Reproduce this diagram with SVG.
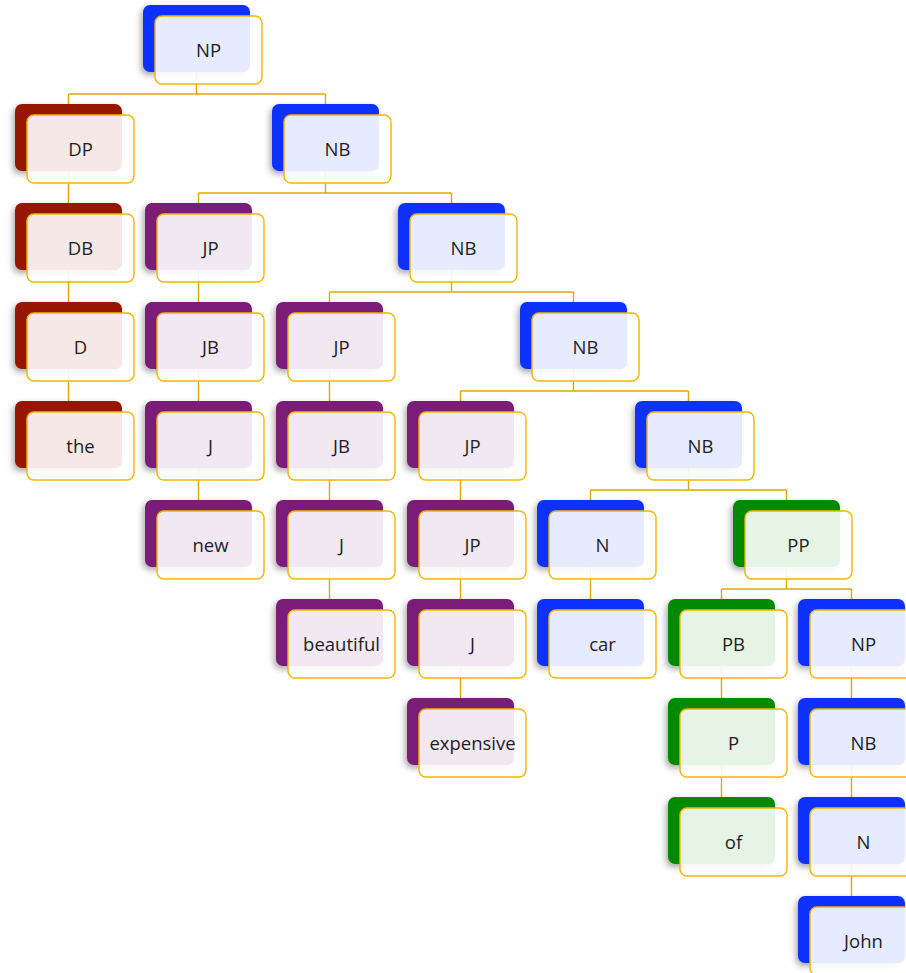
<svg xmlns="http://www.w3.org/2000/svg" width="906" height="973" viewBox="0 0 906 973">
<defs>
<filter id="sh" x="-20%" y="-20%" width="140%" height="150%">
<feDropShadow dx="-2" dy="3" stdDeviation="3" flood-color="#000" flood-opacity="0.35"/>
</filter>
<style>
.b{filter:url(#sh)}
.blue{fill:#0a33ff}.red{fill:#971400}.pur{fill:#7a1a78}.grn{fill:#038a03}
.f{fill:#fff;fill-opacity:0.9;stroke:#f2b600;stroke-width:1.4}
text{font-family:"Open Sans","Noto Sans","Liberation Sans",sans-serif;font-size:18.5px;fill:#1e1e1e;text-anchor:middle}
.c{fill:none;stroke:#e2a800;stroke-width:1.4}
</style>
</defs>
<rect width="906" height="973" fill="#fff"/>
<g id="connectors" class="c">
<path d="M196.5 72V94M68.5 94H325.5M68.5 94V104M325.5 94V104"/>
<path d="M68.5 171V203M68.5 270V302M68.5 369V401"/>
<path d="M325.5 171V193M198.5 193H451.5M198.5 193V203M451.5 193V203"/>
<path d="M198.5 270V302M198.5 369V401M198.5 468V500"/>
<path d="M451.5 270V292M329.5 292H573.5M329.5 292V302M573.5 292V302"/>
<path d="M329.5 369V401M329.5 468V500M329.5 567V599"/>
<path d="M573.5 369V391M460.5 391H688.5M460.5 391V401M688.5 391V401"/>
<path d="M460.5 468V500M460.5 567V599M460.5 666V698"/>
<path d="M688.5 468V490M590.5 490H786.5M590.5 490V500M786.5 490V500"/>
<path d="M590.5 567V599"/>
<path d="M786.5 567V589M721.5 589H851.5M721.5 589V599M851.5 589V599"/>
<path d="M721.5 666V698M721.5 765V797"/>
<path d="M851.5 666V698M851.5 765V797M851.5 864V896"/>
</g>
<g id="n0"><rect class="b blue" x="143" y="5" width="107" height="67" rx="7"/><rect class="f" x="155" y="16" width="107" height="68" rx="7"/><text x="208.5" y="57">NP</text></g>
<g id="n1"><rect class="b red" x="15" y="104" width="107" height="67" rx="7"/><rect class="f" x="27" y="115" width="107" height="68" rx="7"/><text x="80.5" y="156">DP</text></g>
<g id="n2"><rect class="b blue" x="272" y="104" width="107" height="67" rx="7"/><rect class="f" x="284" y="115" width="107" height="68" rx="7"/><text x="337.5" y="156">NB</text></g>
<g id="n3"><rect class="b red" x="15" y="203" width="107" height="67" rx="7"/><rect class="f" x="27" y="214" width="107" height="68" rx="7"/><text x="80.5" y="255">DB</text></g>
<g id="n4"><rect class="b pur" x="145" y="203" width="107" height="67" rx="7"/><rect class="f" x="157" y="214" width="107" height="68" rx="7"/><text x="210.5" y="255">JP</text></g>
<g id="n5"><rect class="b blue" x="398" y="203" width="107" height="67" rx="7"/><rect class="f" x="410" y="214" width="107" height="68" rx="7"/><text x="463.5" y="255">NB</text></g>
<g id="n6"><rect class="b red" x="15" y="302" width="107" height="67" rx="7"/><rect class="f" x="27" y="313" width="107" height="68" rx="7"/><text x="80.5" y="354">D</text></g>
<g id="n7"><rect class="b pur" x="145" y="302" width="107" height="67" rx="7"/><rect class="f" x="157" y="313" width="107" height="68" rx="7"/><text x="210.5" y="354">JB</text></g>
<g id="n8"><rect class="b pur" x="276" y="302" width="107" height="67" rx="7"/><rect class="f" x="288" y="313" width="107" height="68" rx="7"/><text x="341.5" y="354">JP</text></g>
<g id="n9"><rect class="b blue" x="520" y="302" width="107" height="67" rx="7"/><rect class="f" x="532" y="313" width="107" height="68" rx="7"/><text x="585.5" y="354">NB</text></g>
<g id="n10"><rect class="b red" x="15" y="401" width="107" height="67" rx="7"/><rect class="f" x="27" y="412" width="107" height="68" rx="7"/><text x="80.5" y="453">the</text></g>
<g id="n11"><rect class="b pur" x="145" y="401" width="107" height="67" rx="7"/><rect class="f" x="157" y="412" width="107" height="68" rx="7"/><text x="210.5" y="453">J</text></g>
<g id="n12"><rect class="b pur" x="276" y="401" width="107" height="67" rx="7"/><rect class="f" x="288" y="412" width="107" height="68" rx="7"/><text x="341.5" y="453">JB</text></g>
<g id="n13"><rect class="b pur" x="407" y="401" width="107" height="67" rx="7"/><rect class="f" x="419" y="412" width="107" height="68" rx="7"/><text x="472.5" y="453">JP</text></g>
<g id="n14"><rect class="b blue" x="635" y="401" width="107" height="67" rx="7"/><rect class="f" x="647" y="412" width="107" height="68" rx="7"/><text x="700.5" y="453">NB</text></g>
<g id="n15"><rect class="b pur" x="145" y="500" width="107" height="67" rx="7"/><rect class="f" x="157" y="511" width="107" height="68" rx="7"/><text x="210.5" y="552">new</text></g>
<g id="n16"><rect class="b pur" x="276" y="500" width="107" height="67" rx="7"/><rect class="f" x="288" y="511" width="107" height="68" rx="7"/><text x="341.5" y="552">J</text></g>
<g id="n17"><rect class="b pur" x="407" y="500" width="107" height="67" rx="7"/><rect class="f" x="419" y="511" width="107" height="68" rx="7"/><text x="472.5" y="552">JP</text></g>
<g id="n18"><rect class="b blue" x="537" y="500" width="107" height="67" rx="7"/><rect class="f" x="549" y="511" width="107" height="68" rx="7"/><text x="602.5" y="552">N</text></g>
<g id="n19"><rect class="b grn" x="733" y="500" width="107" height="67" rx="7"/><rect class="f" x="745" y="511" width="107" height="68" rx="7"/><text x="798.5" y="552">PP</text></g>
<g id="n20"><rect class="b pur" x="276" y="599" width="107" height="67" rx="7"/><rect class="f" x="288" y="610" width="107" height="68" rx="7"/><text x="341.5" y="651">beautiful</text></g>
<g id="n21"><rect class="b pur" x="407" y="599" width="107" height="67" rx="7"/><rect class="f" x="419" y="610" width="107" height="68" rx="7"/><text x="472.5" y="651">J</text></g>
<g id="n22"><rect class="b blue" x="537" y="599" width="107" height="67" rx="7"/><rect class="f" x="549" y="610" width="107" height="68" rx="7"/><text x="602.5" y="651">car</text></g>
<g id="n23"><rect class="b grn" x="668" y="599" width="107" height="67" rx="7"/><rect class="f" x="680" y="610" width="107" height="68" rx="7"/><text x="733.5" y="651">PB</text></g>
<g id="n24"><rect class="b blue" x="798" y="599" width="107" height="67" rx="7"/><rect class="f" x="810" y="610" width="107" height="68" rx="7"/><text x="863.5" y="651">NP</text></g>
<g id="n25"><rect class="b pur" x="407" y="698" width="107" height="67" rx="7"/><rect class="f" x="419" y="709" width="107" height="68" rx="7"/><text x="472.5" y="750">expensive</text></g>
<g id="n26"><rect class="b grn" x="668" y="698" width="107" height="67" rx="7"/><rect class="f" x="680" y="709" width="107" height="68" rx="7"/><text x="733.5" y="750">P</text></g>
<g id="n27"><rect class="b blue" x="798" y="698" width="107" height="67" rx="7"/><rect class="f" x="810" y="709" width="107" height="68" rx="7"/><text x="863.5" y="750">NB</text></g>
<g id="n28"><rect class="b grn" x="668" y="797" width="107" height="67" rx="7"/><rect class="f" x="680" y="808" width="107" height="68" rx="7"/><text x="733.5" y="849">of</text></g>
<g id="n29"><rect class="b blue" x="798" y="797" width="107" height="67" rx="7"/><rect class="f" x="810" y="808" width="107" height="68" rx="7"/><text x="863.5" y="849">N</text></g>
<g id="n30"><rect class="b blue" x="798" y="896" width="107" height="67" rx="7"/><rect class="f" x="810" y="907" width="107" height="68" rx="7"/><text x="863.5" y="948">John</text></g>
</svg>
